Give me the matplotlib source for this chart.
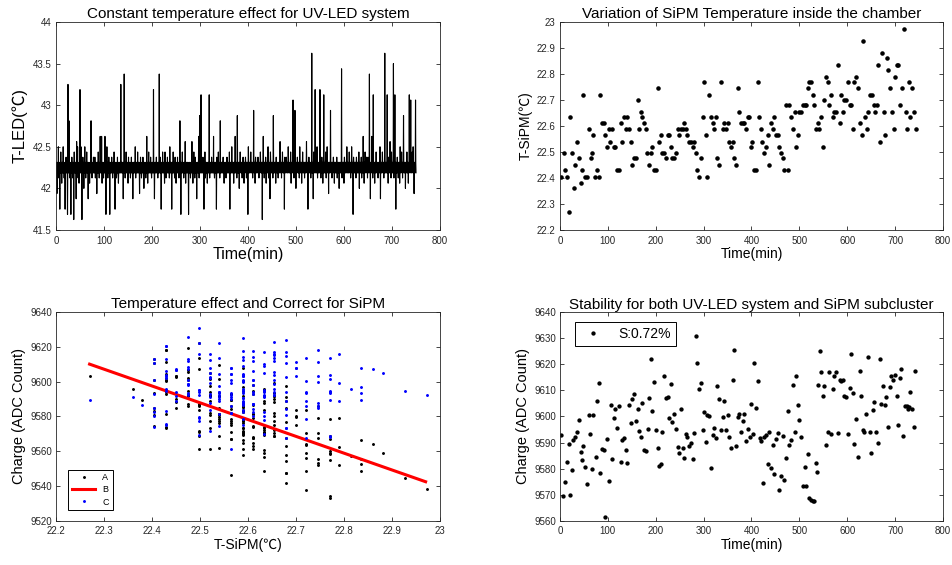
import numpy as np
import matplotlib
matplotlib.use('Agg')
import matplotlib.pyplot as plt

# ---- data ----
# UV-LED temperature trace (0.5 min samples): the band flips between two sensor levels,
# the excursions away from the band are listed separately below
led_band = (
    "hlhlhlhlhlhlhlhlhlhlhlhlhlhlhlhlhlhlhlhlhlhlhlhlhlhlhlhlhlhl"
    "hlhlhlhlhlhlhlhlhlhlhlhlhlhlmlhlhlhlhlhlhlhlhlhlhlhlhlhlhlhl"
    "hlhlhlhlhlhlhlhlhlhlhlhlhlhlhlhlhlhlhlhlhlhlhlhlhlhlhlhlhlhl"
    "hlhlhlhlhlhlhlhlhlhlhlhlhlhlhlhlhlhlhlhlhlhlhlhlhlhlhlhlhlhl"
    "hlhlhlhlhlhlhlhlhlhlhlhlhlhlhlhlhlhlhlhlhlhlmlhlhlhlhlhlhlhl"
    "hlhlhlhlhlhlhlhlhlhlhlhlhlhlhlhlhlhlhlhlhlhlhlhlhlhlhlhlhlhl"
    "hlhlhlhlhlhlhlhlhlhlhlhlhlhlhlhlhlhlhlhlhlhlhlhlhlhlhlhlhlhl"
    "hlhlhlhlhlhlhlhlhlhlhlhlhlhlhlhlhlhlhlhlhlhlhlhlhlhlhlhlhlhl"
    "hlhlhlhlhlhlhlhlhlhlmlhlhlhlhlhlhlhlhlhlhlhlhlhlhlhlhlhlhlhl"
    "hlhlhlhlhlhlhlhlhlhlhlhlhlhlhlhlhlhlhlhlhlhlhlhlhlhlhlhlhlhl"
    "hlhlhlhlhlhlhlhlhlhlhlhlhlhlhlhlhlhlhlhlhlhlhlhlhlhlhlhlhlhl"
    "hlhlhlhlhlhlhlhlhlhlhlhlhlhlhlhlhlhlhlhlhlhlhlhlhlhlhlhlhlhl"
    "hlhlhlhlhlhlhlhlhlhlhlhlhlhlhlhlhlhlhlhlhlhlhlhlhlhlhlhlmlhl"
    "hlhlhlhlhlhlhlhlhlhlhlhlhlhlhlhlhlhlhlhlhlhlhlhlhlhlhlhlhlhl"
    "hlhlhlhlhlhlhlhlhlhlhlhlhlhlhlhlhlhlhlhlhlhlhlhlhlhlhlhlhlhl"
    "hlhlhlhlhlhlhlhlhlhlhlhlhlhlhlhlhlhlhlhlhlhlhlhlhlhlhlhlhlhl"
    "hlhlhlhlhlhlmlhlhlhlhlhlhlhlhlhlhlhlhlhlhlhlhlhlhlhlhlhlhlhl"
    "hlhlhlhlhlhlhlhlhlhlhlhlhlhlhlhlhlhlhlhlhlhlhlhlhlhlhlhlhlhl"
    "hlhlhlhlhlhlhlhlhlhlhlhlhlhlhlhlhlhlhlhlhlhlhlhlhlhlhlhlhlhl"
    "hlhlhlhlhlhlhlhlhlhlhlhlhlhlhlhlhlhlhlhlhlhlhlhlhlhlhlhlhlhl"
    "hlhlhlhlhlhlhlhlhlhlhlhlhlhlhlhlhlhlmlhlhlhlhlhlhlhlhlhlhlhl"
    "hlhlhlhlhlhlhlhlhlhlhlhlhlhlhlhlhlhlhlhlhlhlhlhlhlhlhlhlhlhl"
    "hlhlhlhlhlhlhlhlhlhlhlhlhlhlhlhlhlhlhlhlhlhlhlhlhlhlhlhlhlhl"
    "hlhlhlhlhlhlhlhlhlhlhlhlhlhlhlhlhlhlhlhlhlhlhlhlhlhlhlhlhlhl"
    "hlhlhlhlhlhlhlhlhlhlhlhlhlhlhlhlhlhlhlhlhlhlhlhlhlhlhlhlhlhl"
)
led_levels = {'h': 42.3125, 'm': 42.25, 'l': 42.1875}
led_span_min = 750

led_up_min = [5, 15, 25, 27, 33, 43, 45, 50, 52, 60, 73, 81, 92, 95, 102, 106, 116,
              135, 142, 151, 165, 176, 189, 197, 203, 215, 217, 227, 237, 248, 258,
              269, 283, 290, 297, 299, 302, 310, 319, 328, 335, 342, 356, 366, 373,
              378, 390, 401, 412, 421, 432, 442, 453, 467, 477, 484, 494, 498, 508,
              522, 533, 540, 544, 550, 558, 565, 572, 585, 595, 606, 616, 626, 640,
              647, 653, 658, 661, 675, 685, 690, 696, 703, 706, 717, 724, 731, 736,
              739, 744, 749]
led_up_val = [42.5, 42.5, 43.25, 42.8125, 42.375, 42.5625, 42.5, 43.1875, 42.5, 42.5,
              42.8125, 42.375, 42.625, 42.625, 42.625, 42.5, 42.375, 43.25, 43.375,
              42.375, 42.5, 42.375, 42.625, 42.375, 43.1875, 43.375, 42.375, 42.4375,
              42.5, 42.375, 42.8125, 42.5625, 42.5625, 42.375, 42.625, 42.875, 43.125,
              42.4375, 43.125, 42.625, 42.375, 42.8125, 42.375, 42.5, 42.625, 42.875,
              42.375, 42.5, 42.9375, 42.375, 42.625, 42.5, 42.875, 42.5625, 42.375,
              42.5, 43.0625, 42.9375, 42.5, 42.5625, 43.625, 43.1875, 42.5, 43.1875,
              43.125, 42.5, 42.9375, 42.375, 43.4375, 42.5, 42.5, 42.375, 42.625,
              42.375, 43.375, 42.625, 43.125, 42.5, 43.625, 43.125, 42.5625, 43.5,
              43.125, 42.5, 42.875, 42.4375, 43.125, 43.0625, 42.5, 43.0625]
# small steps just above the band
led_bump_min = [10, 21, 38, 56, 64, 78, 88, 110, 121, 128, 146, 157, 170, 181, 193,
                209, 222, 232, 244, 253, 263, 276, 287, 306, 315, 324, 338, 348, 361,
                370, 384, 395, 406, 416, 426, 437, 447, 459, 472, 480, 489, 503, 514,
                527, 537, 554, 562, 578, 590, 601, 611, 620, 631, 636, 644, 650, 667,
                671, 680, 693, 699, 711, 720, 728, 742]
led_bump_val = [42.4375, 42.375, 42.4375, 42.375, 42.4375, 42.375, 42.4375, 42.375,
                42.4375, 42.375, 42.4375, 42.375, 42.4375, 42.375, 42.4375, 42.375,
                42.4375, 42.375, 42.4375, 42.375, 42.4375, 42.375, 42.4375, 42.375,
                42.4375, 42.375, 42.4375, 42.375, 42.4375, 42.375, 42.4375, 42.375,
                42.4375, 42.375, 42.4375, 42.375, 42.4375, 42.375, 42.4375, 42.375,
                42.4375, 42.375, 42.4375, 42.375, 42.4375, 42.375, 42.4375, 42.375,
                42.4375, 42.375, 42.4375, 42.375, 42.4375, 42.375, 42.4375, 42.375,
                42.4375, 42.375, 42.4375, 42.375, 42.4375, 42.375, 42.4375, 42.375,
                42.4375]
# small steps just below the band
led_dip_min = [6, 17, 29, 35, 46, 62, 75, 82, 90, 99, 108, 118, 126, 135, 144, 155,
               166, 178, 187, 199, 212, 229, 236, 247, 256, 266, 280, 289, 298, 311,
               320, 330, 341, 354, 366, 377, 388, 397, 410, 423, 434, 443, 452, 463,
               470, 484, 496, 507, 518, 531, 545, 552, 563, 575, 586, 596, 606, 614,
               625, 637, 649, 660, 671, 683, 698, 704, 713, 722, 739]
led_dip_val = [42.125] * 69
led_down_min = [2, 8, 12, 19, 24, 31, 37, 42, 48, 54, 58, 67, 70, 85, 96, 104, 112,
                123, 130, 140, 150, 160, 174, 183, 191, 205, 219, 226, 241, 250, 260,
                270, 276, 285, 293, 308, 315, 334, 350, 362, 370, 382, 392, 400, 415,
                430, 438, 446, 458, 476, 490, 500, 512, 525, 536, 556, 568, 580, 590,
                600, 619, 632, 642, 655, 664, 676, 692, 708, 716, 728, 734, 746]
led_down_val = [41.9375, 41.75, 42.0625, 41.75, 41.6875, 41.6875, 41.625, 41.875,
                42.0625, 41.625, 42.0, 41.875, 42.0625, 41.9375, 42.0625, 41.6875,
                41.6875, 41.75, 42.0625, 41.875, 42.0625, 41.875, 41.9375, 42.0,
                42.0625, 41.875, 41.75, 42.0625, 41.75, 42.0625, 41.6875, 42.0625,
                41.6875, 42.0625, 41.875, 41.75, 42.0625, 41.75, 42.0625, 41.75,
                42.0625, 42.0, 42.0625, 41.6875, 42.0625, 41.625, 42.0625, 41.875,
                42.0625, 41.75, 42.0625, 42.0, 42.0625, 41.75, 41.875, 42.0625,
                41.9375, 42.0625, 42.0, 42.0625, 41.6875, 42.0, 42.0625, 41.875,
                42.0625, 41.875, 42.0625, 41.75, 42.0625, 42.0, 42.0625, 41.9375]

# SiPM temperature vs time
sipm_min = [3, 8, 11, 15, 19, 22, 26, 29, 32, 36,
            39, 43, 46, 49, 52, 56, 61, 64, 67, 70,
            74, 77, 81, 84, 88, 91, 95, 98, 102, 105,
            109, 112, 116, 120, 123, 127, 130, 134, 137, 141,
            144, 148, 151, 155, 159, 162, 165, 169, 172, 176,
            179, 182, 186, 190, 193, 197, 200, 204, 207, 211,
            214, 218, 221, 225, 228, 232, 235, 239, 242, 246,
            249, 252, 256, 259, 263, 266, 270, 273, 277, 280,
            284, 287, 291, 294, 298, 301, 305, 308, 312, 315,
            319, 322, 326, 329, 333, 336, 340, 343, 347, 350,
            354, 357, 361, 364, 368, 371, 375, 378, 382, 385,
            389, 392, 395, 399, 402, 406, 409, 413, 416, 420,
            423, 427, 430, 434, 437, 441, 444, 448, 451, 455,
            458, 462, 465, 469, 472, 476, 479, 483, 486, 490,
            493, 497, 500, 504, 507, 511, 514, 518, 521, 525,
            528, 531, 535, 538, 542, 545, 549, 552, 556, 559,
            563, 566, 570, 573, 577, 580, 584, 587, 591, 594,
            598, 601, 605, 608, 612, 615, 619, 622, 626, 631,
            634, 637, 641, 644, 648, 651, 655, 658, 662, 665,
            669, 672, 676, 679, 683, 686, 690, 693, 697, 700,
            704, 707, 711, 714, 718, 722, 725, 729, 732, 736,
            739, 743]
sipm_temp = [22.405, 22.497, 22.43, 22.405, 22.27, 22.633, 22.497, 22.36, 22.45, 22.54,
             22.475, 22.38, 22.43, 22.72, 22.405, 22.405, 22.59, 22.475, 22.497, 22.565,
             22.405, 22.43, 22.405, 22.72, 22.61, 22.61, 22.565, 22.52, 22.59, 22.54,
             22.59, 22.52, 22.52, 22.43, 22.43, 22.61, 22.54, 22.633, 22.59, 22.633,
             22.59, 22.54, 22.45, 22.475, 22.475, 22.70, 22.59, 22.655, 22.633, 22.61,
             22.59, 22.497, 22.45, 22.497, 22.52, 22.43, 22.43, 22.746, 22.54, 22.565,
             22.497, 22.497, 22.475, 22.565, 22.565, 22.52, 22.475, 22.475, 22.497, 22.59,
             22.565, 22.59, 22.59, 22.61, 22.59, 22.565, 22.54, 22.54, 22.52, 22.54,
             22.497, 22.43, 22.405, 22.475, 22.633, 22.77, 22.565, 22.405, 22.72, 22.633,
             22.61, 22.59, 22.633, 22.475, 22.45, 22.77, 22.59, 22.61, 22.59, 22.61,
             22.54, 22.52, 22.54, 22.475, 22.45, 22.746, 22.655, 22.61, 22.61, 22.61,
             22.59, 22.633, 22.633, 22.52, 22.54, 22.43, 22.43, 22.77, 22.633, 22.59,
             22.54, 22.497, 22.52, 22.565, 22.45, 22.61, 22.59, 22.633, 22.565, 22.565,
             22.52, 22.497, 22.475, 22.43, 22.68, 22.43, 22.68, 22.633, 22.59, 22.655,
             22.52, 22.565, 22.655, 22.655, 22.68, 22.68, 22.68, 22.746, 22.77, 22.77,
             22.72, 22.68, 22.59, 22.61, 22.59, 22.633, 22.52, 22.70, 22.79, 22.77,
             22.68, 22.72, 22.633, 22.655, 22.655, 22.836, 22.61, 22.72, 22.655, 22.70,
             22.70, 22.77, 22.68, 22.68, 22.59, 22.77, 22.79, 22.746, 22.61, 22.565,
             22.928, 22.633, 22.59, 22.655, 22.72, 22.72, 22.68, 22.655, 22.68, 22.836,
             22.54, 22.882, 22.655, 22.565, 22.86, 22.814, 22.746, 22.655, 22.59, 22.79,
             22.836, 22.836, 22.68, 22.746, 22.972, 22.655, 22.59, 22.77, 22.633, 22.746,
             22.655, 22.59]

# corrected charge vs time
charge_min = [3, 7, 10, 15, 19, 22, 25, 28, 31, 35,
              39, 43, 45, 49, 52, 56, 60, 63, 67, 70,
              75, 77, 81, 84, 88, 91, 95, 99, 103, 106,
              109, 113, 116, 120, 123, 127, 130, 134, 137, 141,
              144, 148, 151, 155, 158, 162, 165, 169, 172, 176,
              179, 183, 186, 190, 193, 197, 200, 204, 207, 211,
              214, 218, 221, 225, 228, 232, 235, 239, 242, 246,
              249, 252, 256, 259, 263, 266, 270, 273, 277, 280,
              284, 287, 291, 294, 298, 301, 305, 308, 312, 315,
              319, 322, 326, 329, 333, 336, 340, 343, 347, 350,
              354, 357, 361, 364, 368, 371, 375, 378, 382, 385,
              389, 392, 396, 399, 403, 406, 410, 413, 417, 420,
              424, 427, 431, 434, 437, 441, 444, 448, 451, 455,
              458, 462, 465, 469, 472, 476, 479, 483, 486, 490,
              493, 497, 500, 504, 507, 511, 514, 518, 521, 525,
              528, 531, 534, 536, 540, 543, 546, 549, 552, 556,
              559, 563, 566, 570, 573, 577, 580, 584, 587, 591,
              594, 598, 601, 605, 608, 612, 615, 619, 622, 626,
              629, 633, 636, 640, 643, 647, 650, 654, 657, 661,
              664, 668, 671, 675, 678, 682, 685, 689, 692, 696,
              699, 703, 706, 710, 713, 717, 721, 724, 726, 729,
              732, 735, 739, 742]
charge_adc = [9593.0, 9569.4, 9575.0, 9582.5, 9589.6, 9570.0, 9579.3, 9591.0, 9592.0, 9594.0,
              9598.8, 9586.3, 9583.2, 9588.8, 9580.5, 9574.2, 9600.4, 9593.4, 9579.8, 9600.7,
              9584.6, 9606.0, 9612.7, 9578.5, 9587.4, 9587.0, 9561.4, 9591.4, 9575.2, 9604.3,
              9583.7, 9599.4, 9602.9, 9595.7, 9603.8, 9582.5, 9591.1, 9591.9, 9587.0, 9582.3,
              9604.3, 9597.6, 9606.8, 9608.6, 9598.4, 9603.0, 9594.5, 9592.1, 9605.0, 9587.0,
              9586.7, 9595.3, 9607.2, 9621.9, 9602.2, 9613.0, 9594.8, 9587.8, 9581.2, 9581.8,
              9594.1, 9615.6, 9607.1, 9607.6, 9599.2, 9612.3, 9597.9, 9601.1, 9595.1, 9588.2,
              9586.0, 9603.0, 9587.9, 9584.2, 9593.4, 9592.1, 9588.8, 9590.0, 9583.7, 9593.8,
              9630.7, 9620.3, 9610.4, 9612.7, 9594.8, 9601.5, 9590.2, 9600.7, 9600.2, 9580.3,
              9593.0, 9595.7, 9591.9, 9611.8, 9606.6, 9594.7, 9599.7, 9605.8, 9594.8, 9600.7,
              9592.3, 9587.9, 9613.8, 9625.3, 9588.8, 9599.9, 9601.1, 9593.9, 9598.1, 9600.8,
              9590.5, 9595.2, 9592.3, 9604.9, 9593.4, 9620.3, 9603.1, 9613.5, 9591.9, 9590.7,
              9574.4, 9592.1, 9592.8, 9581.7, 9594.1, 9580.3, 9589.1, 9578.1, 9591.3, 9593.7,
              9571.9, 9577.1, 9592.5, 9575.6, 9584.1, 9602.1, 9589.1, 9591.0, 9612.2, 9593.9,
              9615.6, 9604.4, 9598.7, 9592.1, 9573.4, 9580.7, 9573.5, 9585.8, 9568.8, 9568.0,
              9567.8, 9567.8, 9582.3, 9578.6, 9612.0, 9625.2, 9617.0, 9607.8, 9611.5, 9589.0,
              9593.9, 9617.0, 9593.3, 9610.3, 9615.4, 9617.0, 9593.7, 9614.1, 9613.6, 9613.8,
              9608.0, 9607.5, 9593.4, 9610.7, 9623.7, 9608.9, 9589.5, 9599.1, 9584.6, 9617.3,
              9607.8, 9594.8, 9593.9, 9600.8, 9622.9, 9594.2, 9585.9, 9602.6, 9605.7, 9593.9,
              9589.7, 9622.1, 9604.7, 9611.7, 9604.4, 9607.3, 9596.0, 9611.2, 9615.6, 9614.1,
              9616.0, 9607.8, 9596.6, 9614.6, 9618.2, 9592.5, 9604.0, 9603.8, 9603.0, 9603.6,
              9609.2, 9603.0, 9595.8, 9617.5]

# red fit line (B) end points and the reference temperature of the correction
fit_temp = [22.27, 22.97]
fit_charge = [9610.0, 9542.5]
t_ref = 22.41
stability_label = "S:0.72%"

# ---- build series ----
led_vals = np.array([led_levels[c] for c in led_band])
led_time = np.linspace(0, led_span_min, len(led_vals))
excursions = (list(zip(led_bump_min, led_bump_val)) + list(zip(led_dip_min, led_dip_val))
              + list(zip(led_down_min, led_down_val)) + list(zip(led_up_min, led_up_val)))
for t, v in excursions:
    led_vals[int(round(t / led_span_min * (len(led_vals) - 1)))] = v

sipm_min = np.array(sipm_min)
sipm_temp = np.array(sipm_temp)
charge_min = np.array(charge_min)
charge_adc = np.array(charge_adc)
# temperature at each charge sample (nearest SiPM reading in time)
nearest = np.abs(sipm_min[None, :] - charge_min[:, None]).argmin(axis=1)
temp_at_charge = sipm_temp[nearest]
slope = (fit_charge[1] - fit_charge[0]) / (fit_temp[1] - fit_temp[0])
raw_charge = charge_adc + slope * (temp_at_charge - t_ref)

# ---- style (MATLAB-like) ----
plt.rcParams['font.family'] = ['Liberation Sans', 'Noto Sans CJK SC', 'DejaVu Sans']
plt.rcParams['axes.unicode_minus'] = False
gray = '#262626'
plt.rcParams.update({
    'xtick.direction': 'in', 'ytick.direction': 'in',
    'xtick.top': True, 'ytick.right': True,
    'xtick.major.size': 3, 'ytick.major.size': 3,
    'xtick.major.width': 0.6, 'ytick.major.width': 0.6,
    'xtick.labelsize': 7, 'ytick.labelsize': 7,
    'xtick.color': gray, 'ytick.color': gray,
    'axes.edgecolor': gray, 'axes.linewidth': 0.6,
    'xtick.major.pad': 4, 'ytick.major.pad': 3,
})

fig = plt.figure(figsize=(9.52, 5.65), dpi=100)
ax1 = fig.add_axes([0.0588, 0.593, 0.4034, 0.368])
ax2 = fig.add_axes([0.5882, 0.593, 0.4023, 0.368])
ax3 = fig.add_axes([0.0588, 0.078, 0.4034, 0.370])
ax4 = fig.add_axes([0.5882, 0.078, 0.4023, 0.370])

# panel 1
ax1.plot(led_time, led_vals, color='black', linewidth=0.8)
ax1.set_xlim(0, 800)
ax1.set_ylim(41.5, 44)
ax1.set_xticks(np.arange(0, 801, 100))
ax1.set_yticks([41.5, 42, 42.5, 43, 43.5, 44])
ax1.set_yticklabels(['41.5', '42', '42.5', '43', '43.5', '44'])
ax1.set_title('Constant temperature effect for UV-LED system', fontsize=11, pad=3)
ax1.set_xlabel('Time(min)', fontsize=11.5, labelpad=1)
ax1.set_ylabel('T-LED(℃)', fontsize=12, labelpad=4)

# panel 2
ax2.plot(sipm_min, sipm_temp, '.', color='black', markersize=4.5)
ax2.set_xlim(0, 800)
ax2.set_ylim(22.2, 23)
ax2.set_xticks(np.arange(0, 801, 100))
ax2.set_yticks(np.round(np.arange(22.2, 23.01, 0.1), 1))
ax2.set_yticklabels(['22.2', '22.3', '22.4', '22.5', '22.6', '22.7', '22.8', '22.9', '23'])
ax2.set_title('Variation of SiPM Temperature inside the chamber', fontsize=11, pad=3)
ax2.set_xlabel('Time(min)', fontsize=10, labelpad=1)
ax2.set_ylabel('T-SiPM(℃)', fontsize=10, labelpad=3)

# panel 3
ax3.plot(temp_at_charge, raw_charge, '.', color='black', markersize=2.2, label='A')
ax3.plot(fit_temp, fit_charge, '-', color='red', linewidth=2.2, label='B')
ax3.plot(temp_at_charge, charge_adc, '.', color='blue', markersize=2.2, label='C')
ax3.set_xlim(22.2, 23)
ax3.set_ylim(9520, 9640)
ax3.set_xticks(np.round(np.arange(22.2, 23.01, 0.1), 1))
ax3.set_xticklabels(['22.2', '22.3', '22.4', '22.5', '22.6', '22.7', '22.8', '22.9', '23'])
ax3.set_yticks(np.arange(9520, 9641, 20))
ax3.set_title('Temperature effect and Correct for SiPM', fontsize=11, pad=3)
ax3.set_xlabel('T-SiPM(℃)', fontsize=10, labelpad=1)
ax3.set_ylabel('Charge (ADC Count)', fontsize=10.5, labelpad=3)
leg3 = ax3.legend(loc='lower left', fontsize=6.5, fancybox=False, edgecolor='black',
                  framealpha=1, handlelength=2.6, borderpad=0.4, labelspacing=0.35,
                  bbox_to_anchor=(0.02, 0.03))
leg3.get_frame().set_linewidth(0.7)

# panel 4
ax4.plot(charge_min, charge_adc, '.', color='black', markersize=4.2, label=stability_label)
ax4.set_xlim(0, 800)
ax4.set_ylim(9560, 9640)
ax4.set_xticks(np.arange(0, 801, 100))
ax4.set_yticks(np.arange(9560, 9641, 10))
ax4.set_title('Stability for both UV-LED system and SiPM subcluster', fontsize=11, pad=2)
ax4.set_xlabel('Time(min)', fontsize=10, labelpad=1)
ax4.set_ylabel('Charge (ADC Count)', fontsize=10.5, labelpad=3)
leg4 = ax4.legend(loc='upper left', fontsize=10, fancybox=False, edgecolor='black',
                  framealpha=1, handlelength=2.0, borderpad=0.35,
                  bbox_to_anchor=(0.02, 0.985))
leg4.get_frame().set_linewidth(0.7)

fig.savefig('out.png', dpi=100)
